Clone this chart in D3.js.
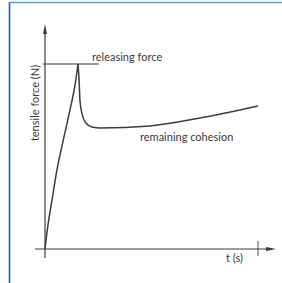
<!DOCTYPE html>
<html lang="en">
<head>
<meta charset="UTF-8">
<script src="https://d3js.org/d3.v7.min.js"></script>
<style>
  body { margin: 0; background: #fff; }
  text { font-family: Lato, "Open Sans", sans-serif; fill: #3a3a3a; }
</style>
</head>
<body>
<div id="chart"></div>
<script>
// tensile force over time (force as % of releasing force)
const riseTime = [0, 0.14, 0.33, 0.56, 0.85, 1.17, 1.41, 1.55];
const riseForce = [0, 13, 26.5, 42.7, 58.4, 75.1, 88.6, 100];
const decayTime = [1.55, 1.6, 1.64, 1.74, 1.92, 2.21, 2.58, 4.93, 7.28, 10];
const decayForce = [100, 91.4, 80.5, 73, 68.1, 65.9, 65.4, 66.5, 70.8, 77.3];
const releasingForce = 100;
const labels = { y: "tensile force (N)", x: "t (s)", peak: "releasing force", rest: "remaining cohesion" };

const W = 282, H = 283;
const svg = d3.select("#chart").append("svg").attr("width", W).attr("height", H);

// blue frame
svg.append("line").attr("x1", 9.5).attr("x2", 9.5).attr("y1", 2).attr("y2", H)
   .attr("stroke", "#1a5fb8").attr("stroke-width", 1.6);
svg.append("line").attr("x1", 9).attr("x2", W).attr("y1", 2.5).attr("y2", 2.5)
   .attr("stroke", "#5b9bd8").attr("stroke-width", 1.4);

const x = d3.scaleLinear().domain([0, 10]).range([45, 258]);
const y = d3.scaleLinear().domain([0, 100]).range([249, 64]);

const ink = "#3c3c3c";

// axes
svg.append("line").attr("x1", x(0)).attr("x2", x(0)).attr("y1", 258).attr("y2", 28)
   .attr("stroke", ink).attr("stroke-width", 1.2);
svg.append("path").attr("d", `M${x(0)},24 L${x(0) - 2},34 L${x(0) + 2},34 Z`).attr("fill", ink);

svg.append("line").attr("x1", 35).attr("x2", 272).attr("y1", y(0)).attr("y2", y(0))
   .attr("stroke", ink).attr("stroke-width", 1.2);
svg.append("path").attr("d", `M276,${y(0)} L266,${y(0) - 2} L266,${y(0) + 2} Z`).attr("fill", ink);
svg.append("line").attr("x1", x(10)).attr("x2", x(10)).attr("y1", y(0) - 8).attr("y2", y(0) + 7)
   .attr("stroke", ink).attr("stroke-width", 0.9);

// releasing force level
svg.append("line").attr("x1", x(-0.1)).attr("x2", x(2.54))
   .attr("y1", y(releasingForce)).attr("y2", y(releasingForce))
   .attr("stroke", ink).attr("stroke-width", 1.2);

const rise = d3.line().x((d, i) => x(riseTime[i])).y(d => y(d)).curve(d3.curveMonotoneX);
const decay = d3.line().x((d, i) => x(decayTime[i])).y(d => y(d)).curve(d3.curveMonotoneX);

svg.append("path").attr("d", rise(riseForce)).attr("fill", "none")
   .attr("stroke", ink).attr("stroke-width", 1.5);
svg.append("path").attr("d", decay(decayForce)).attr("fill", "none")
   .attr("stroke", ink).attr("stroke-width", 1.5);

// texts
svg.append("text").attr("x", 92).attr("y", 61).attr("font-size", 11).text(labels.peak);
svg.append("text").attr("x", 140).attr("y", 141).attr("font-size", 11).text(labels.rest);
svg.append("text").attr("x", 226).attr("y", 262).attr("font-size", 11).text(labels.x);
svg.append("text").attr("transform", "translate(39,103) rotate(-90)")
   .attr("text-anchor", "middle").attr("font-size", 11).text(labels.y);
</script>
</body>
</html>
